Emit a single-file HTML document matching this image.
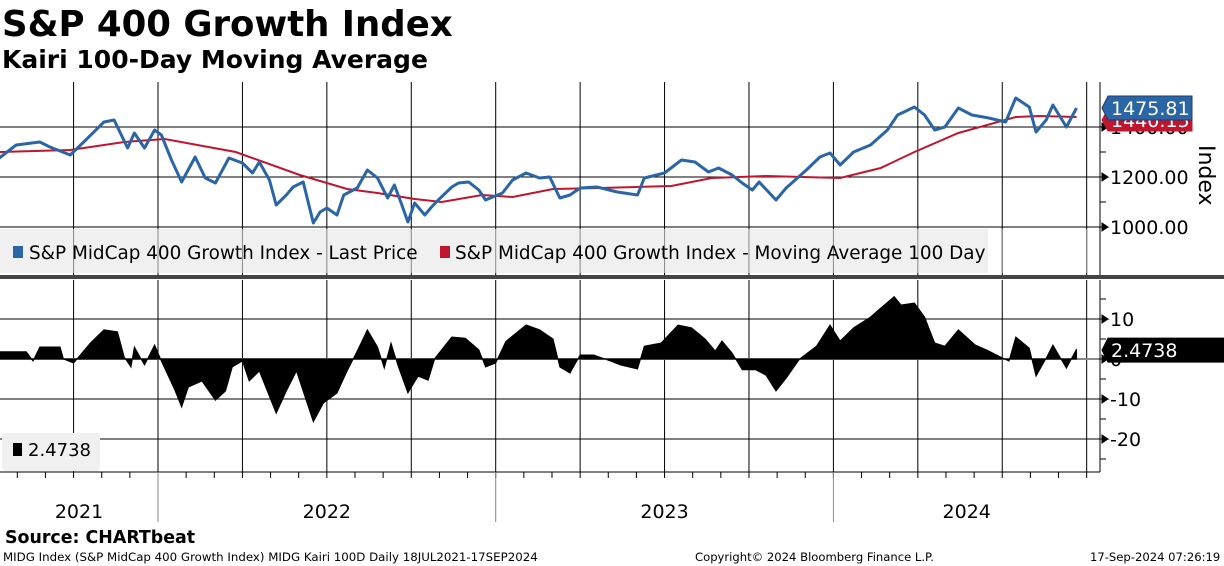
<!DOCTYPE html>
<html><head><meta charset="utf-8"><style>
body{margin:0;background:#fff;width:1224px;height:566px;overflow:hidden;font-family:"Liberation Sans",sans-serif}
svg{position:absolute;left:0;top:0}
</style></head><body>
<svg width="1224" height="566" xmlns="http://www.w3.org/2000/svg">
<text x="2" y="36" font-family="DejaVu Sans" font-weight="bold" font-size="35.5">S&amp;P 400 Growth Index</text>
<text x="2" y="68" font-family="DejaVu Sans" font-weight="bold" font-size="25">Kairi 100-Day Moving Average</text>
<g id="grid"></g>
<rect x="0" y="229" width="988" height="44" fill="#f0f0f0"/>
<g id="gridover"></g>
<g id="series"></g>
<rect x="0" y="275" width="1224" height="4" fill="#444"/>
<g id="legend" font-family="DejaVu Sans" font-size="18.4">
<rect x="13" y="246" width="10" height="12" fill="#2a66a6"/>
<text x="29" y="259">S&amp;P MidCap 400 Growth Index - Last Price</text>
<rect x="440" y="246" width="10" height="12" fill="#c0152f"/>
<text x="455" y="259">S&amp;P MidCap 400 Growth Index - Moving Average 100 Day</text>
</g>
<rect x="2" y="433" width="98" height="38" fill="#f0f0f0" rx="3"/>
<rect x="13" y="443" width="9" height="13" fill="#000"/>
<text x="28" y="456" font-family="DejaVu Sans" font-size="18">2.4738</text>
<g id="axes" font-family="DejaVu Sans" font-size="19"></g>
<text x="5" y="543" font-family="DejaVu Sans" font-weight="bold" font-size="17.4">Source: CHARTbeat</text>
<text x="3" y="561" font-family="DejaVu Sans" font-size="11.8">MIDG Index (S&amp;P MidCap 400 Growth Index) MIDG Kairi 100D  Daily 18JUL2021-17SEP2024</text>
<text x="695" y="561" font-family="DejaVu Sans" font-size="11.6">Copyright© 2024 Bloomberg Finance L.P.</text>
<text x="1090" y="561" font-family="DejaVu Sans" font-size="11.6">17-Sep-2024 07:26:19</text>
</svg>
<script>
const priceDates=[2021.53,2021.58,2021.65,2021.68,2021.74,2021.78,2021.84,2021.87,2021.91,2021.93,2021.96,2021.99,2022.01,2022.04,2022.07,2022.11,2022.14,2022.17,2022.21,2022.25,2022.28,2022.30,2022.33,2022.35,2022.38,2022.40,2022.43,2022.46,2022.48,2022.50,2022.53,2022.55,2022.59,2022.62,2022.65,2022.68,2022.70,2022.72,2022.74,2022.76,2022.79,2022.81,2022.83,2022.87,2022.89,2022.92,2022.95,2022.97,2023.02,2023.05,2023.09,2023.13,2023.16,2023.19,2023.22,2023.25,2023.30,2023.36,2023.42,2023.44,2023.50,2023.55,2023.59,2023.63,2023.66,2023.70,2023.73,2023.76,2023.78,2023.83,2023.86,2023.92,2023.96,2023.99,2024.02,2024.06,2024.11,2024.16,2024.19,2024.24,2024.27,2024.30,2024.33,2024.37,2024.41,2024.46,2024.51,2024.54,2024.58,2024.60,2024.63,2024.65,2024.69,2024.72];
const priceValues=[1276,1328,1340,1320,1288,1340,1420,1428,1316,1376,1316,1388,1368,1268,1180,1280,1196,1176,1276,1256,1216,1260,1188,1088,1128,1160,1180,1016,1060,1076,1048,1128,1156,1228,1196,1116,1168,1096,1020,1096,1048,1080,1108,1160,1176,1180,1148,1108,1136,1188,1216,1196,1200,1116,1128,1156,1160,1140,1128,1196,1216,1268,1260,1220,1236,1208,1176,1148,1180,1108,1156,1228,1280,1296,1248,1300,1328,1388,1448,1480,1448,1388,1400,1476,1448,1436,1420,1516,1480,1380,1428,1488,1400,1476];
const maDates=[2021.53,2021.74,2021.90,2022.02,2022.23,2022.42,2022.56,2022.65,2022.76,2022.84,2022.96,2023.05,2023.17,2023.31,2023.52,2023.64,2023.80,2024.02,2024.14,2024.24,2024.37,2024.54,2024.61,2024.72];
const maValues=[1300,1308,1340,1352,1300,1208,1152,1136,1112,1100,1128,1120,1152,1156,1164,1196,1204,1196,1236,1300,1376,1440,1444,1440];
const kairiDates=[2021.53,2021.61,2021.63,2021.65,2021.71,2021.72,2021.75,2021.80,2021.84,2021.88,2021.90,2021.92,2021.93,2021.96,2021.99,2022.01,2022.05,2022.07,2022.09,2022.13,2022.17,2022.20,2022.22,2022.25,2022.27,2022.30,2022.35,2022.38,2022.41,2022.46,2022.49,2022.53,2022.56,2022.59,2022.62,2022.65,2022.67,2022.69,2022.71,2022.74,2022.77,2022.80,2022.82,2022.87,2022.91,2022.95,2022.97,2023.00,2023.03,2023.09,2023.13,2023.17,2023.19,2023.22,2023.25,2023.29,2023.34,2023.37,2023.42,2023.44,2023.49,2023.54,2023.58,2023.62,2023.65,2023.67,2023.70,2023.73,2023.77,2023.80,2023.83,2023.86,2023.90,2023.95,2023.99,2024.02,2024.06,2024.11,2024.13,2024.18,2024.20,2024.24,2024.27,2024.30,2024.33,2024.37,2024.42,2024.46,2024.49,2024.52,2024.54,2024.58,2024.60,2024.63,2024.65,2024.69,2024.72];
const kairiValues=[1.8,1.8,-0.5,3,3,0,-1,4,7.3,6.8,0.5,-2,3,-1.5,3.5,-0.5,-7.8,-12,-7,-5.5,-10.3,-8,-2,-0.5,-5.5,-3,-13.6,-8,-3,-15.7,-11,-8.5,-3,2,7.3,3,-2.3,4,-1.5,-8.5,-4.3,-5.3,0.2,5.5,5.2,2.3,-2,-1,4.4,8.5,7.3,5,-2,-3.5,1,1,-0.5,-1.5,-2.5,3.2,4,8.5,7.8,5,2,4.5,1.5,-2.7,-2.7,-4,-8,-4.8,0,3.2,8.5,4.5,7.8,10.5,12,15.6,13.5,14,10.5,4,3.2,7.3,3.5,2,0.7,-0.5,5.5,2.7,-4.3,0.2,3.5,-2.3,2.5];
const priceTicks=[1000,1200,1400];
const kairiTicks=[-20,-10,0,10];
const yearLabels=["2021","2022","2023","2024"];
const yearStarts=[2021,2022,2023,2024,2025];

const NS="http://www.w3.org/2000/svg";
const X=t=>158+(t-2022)*337.7;
const YP=v=>227-(v-1000)/4;
const YK=v=>359-v*4;
function mk(tag,attrs,parent){const e=document.createElementNS(NS,tag);for(const k in attrs)e.setAttribute(k,attrs[k]);parent.appendChild(e);return e;}
const grid=document.getElementById('grid'),gov=document.getElementById('gridover'),ser=document.getElementById('series'),ax=document.getElementById('axes');
for(let y=2021.5;y<2024.9;y+=0.25){const x=X(y);if(x<0||x>1095)continue;
 const l1=mk('line',{x1:x,x2:x,y1:82,y2:275,stroke:'#000','stroke-width':1},grid);
 
 const l2=mk('line',{x1:x,x2:x,y1:229,y2:273,stroke:'#888','stroke-width':1},gov);
 
 const l3=mk('line',{x1:x,x2:x,y1:280,y2:472,stroke:'#000','stroke-width':1},grid);
 }
for(let m=0;m<45;m++){const t=2021+7/12+m/12;const x=X(t);if(x<0||x>1100)continue;
 const tk=mk('line',{x1:x,x2:x,y1:472,y2:478,stroke:'#000'},ax);
 }
priceTicks.forEach(v=>{const y=YP(v);
 const g=mk('line',{x1:0,x2:1100,y1:y,y2:y,stroke:'#000'},grid);
 
 const tk=mk('path',{d:`M1100 ${y} h8 l-6 -4 v8 l6 -4`,stroke:'#000',fill:'#000'},ax);
 
 const tx=mk('text',{x:1110,y:y+7},ax);tx.textContent=v.toFixed(2);
 });
[1100,1300].forEach(v=>{const y=YP(v);mk('line',{x1:1100,x2:1106,y1:y,y2:y,stroke:'#000'},ax);});
kairiTicks.forEach(v=>{const y=YK(v);
 const g=mk('line',{x1:0,x2:1100,y1:y,y2:y,stroke:v===0?'#888':'#000','stroke-width':v===0?2:1},v===0?ser:grid);
 
 const tk=mk('path',{d:`M1100 ${y} h8 l-6 -4 v8 l6 -4`,stroke:'#000',fill:'#000'},ax);
 
 const tx=mk('text',{x:1110,y:y+7},ax);tx.textContent=String(v);
 });
[-25,-15,-5,5,15].forEach(v=>{const y=YK(v);mk('line',{x1:1100,x2:1106,y1:y,y2:y,stroke:'#000'},ax);});
let a=mk('line',{x1:1100,x2:1100,y1:82,y2:275,stroke:'#000'},ax);
a=mk('line',{x1:1100,x2:1100,y1:280,y2:472,stroke:'#000'},ax);
a=mk('line',{x1:0,x2:1100,y1:472,y2:472,stroke:'#000'},ax);
const it=mk('text',{x:0,y:0,transform:'translate(1199,145) rotate(90)','font-size':22},ax);it.textContent='Index';

yearStarts.forEach(t=>{const x=X(t);if(x<0||x>1100)return;const l=mk('line',{x1:x,x2:x,y1:472,y2:522,stroke:'#888'},ax);
 });
yearLabels.forEach((lab,i)=>{const x0=Math.max(0,X(yearStarts[i])),x1=Math.min(1100,X(yearStarts[i+1]));
 const tx=mk('text',{x:(x0+x1)/2,y:518,'text-anchor':'middle'},ax);tx.textContent=lab;
 });
let d=`M${X(kairiDates[0])} ${YK(0)}`;kairiDates.forEach((t,i)=>{d+=` L${X(t)} ${YK(kairiValues[i])}`;});d+=` L${X(kairiDates[kairiDates.length-1])} ${YK(0)} Z`;
const ka=mk('path',{d:d,fill:'#000',stroke:'#000','stroke-width':1},ser);

const ma=mk('polyline',{points:maDates.map((t,i)=>X(t)+','+YP(maValues[i])).join(' '),fill:'none',stroke:'#c0152f','stroke-width':2},ser);

const pl=mk('polyline',{points:priceDates.map((t,i)=>X(t)+','+YP(priceValues[i])).join(' '),fill:'none',stroke:'#2a66a6','stroke-width':3,'stroke-linejoin':'round'},ser);

function tag(y,h,w,fill,txt,name,stroke){const g=mk('g',{},ax);
 
 mk('path',{d:`M1102 ${y} l6 -${h/2} h${w} v${h} h-${w} z`,fill:fill,stroke:stroke||fill},g);
 const tx=mk('text',{x:1111,y:y+7,fill:'#fff'},g);tx.textContent=txt;}
tag(YP(maValues[maValues.length-1])+3,22,84,'#c0152f','1440.15','ma-value-label','#c0152f');
tag(YP(priceValues[priceValues.length-1]),24,84,'#2a66a6','1475.81','price-value-label','#1a3f6a');
tag(YK(2.4738)+1,24,122,'#000','2.4738','kairi-value-label');
</script>
</body></html>
